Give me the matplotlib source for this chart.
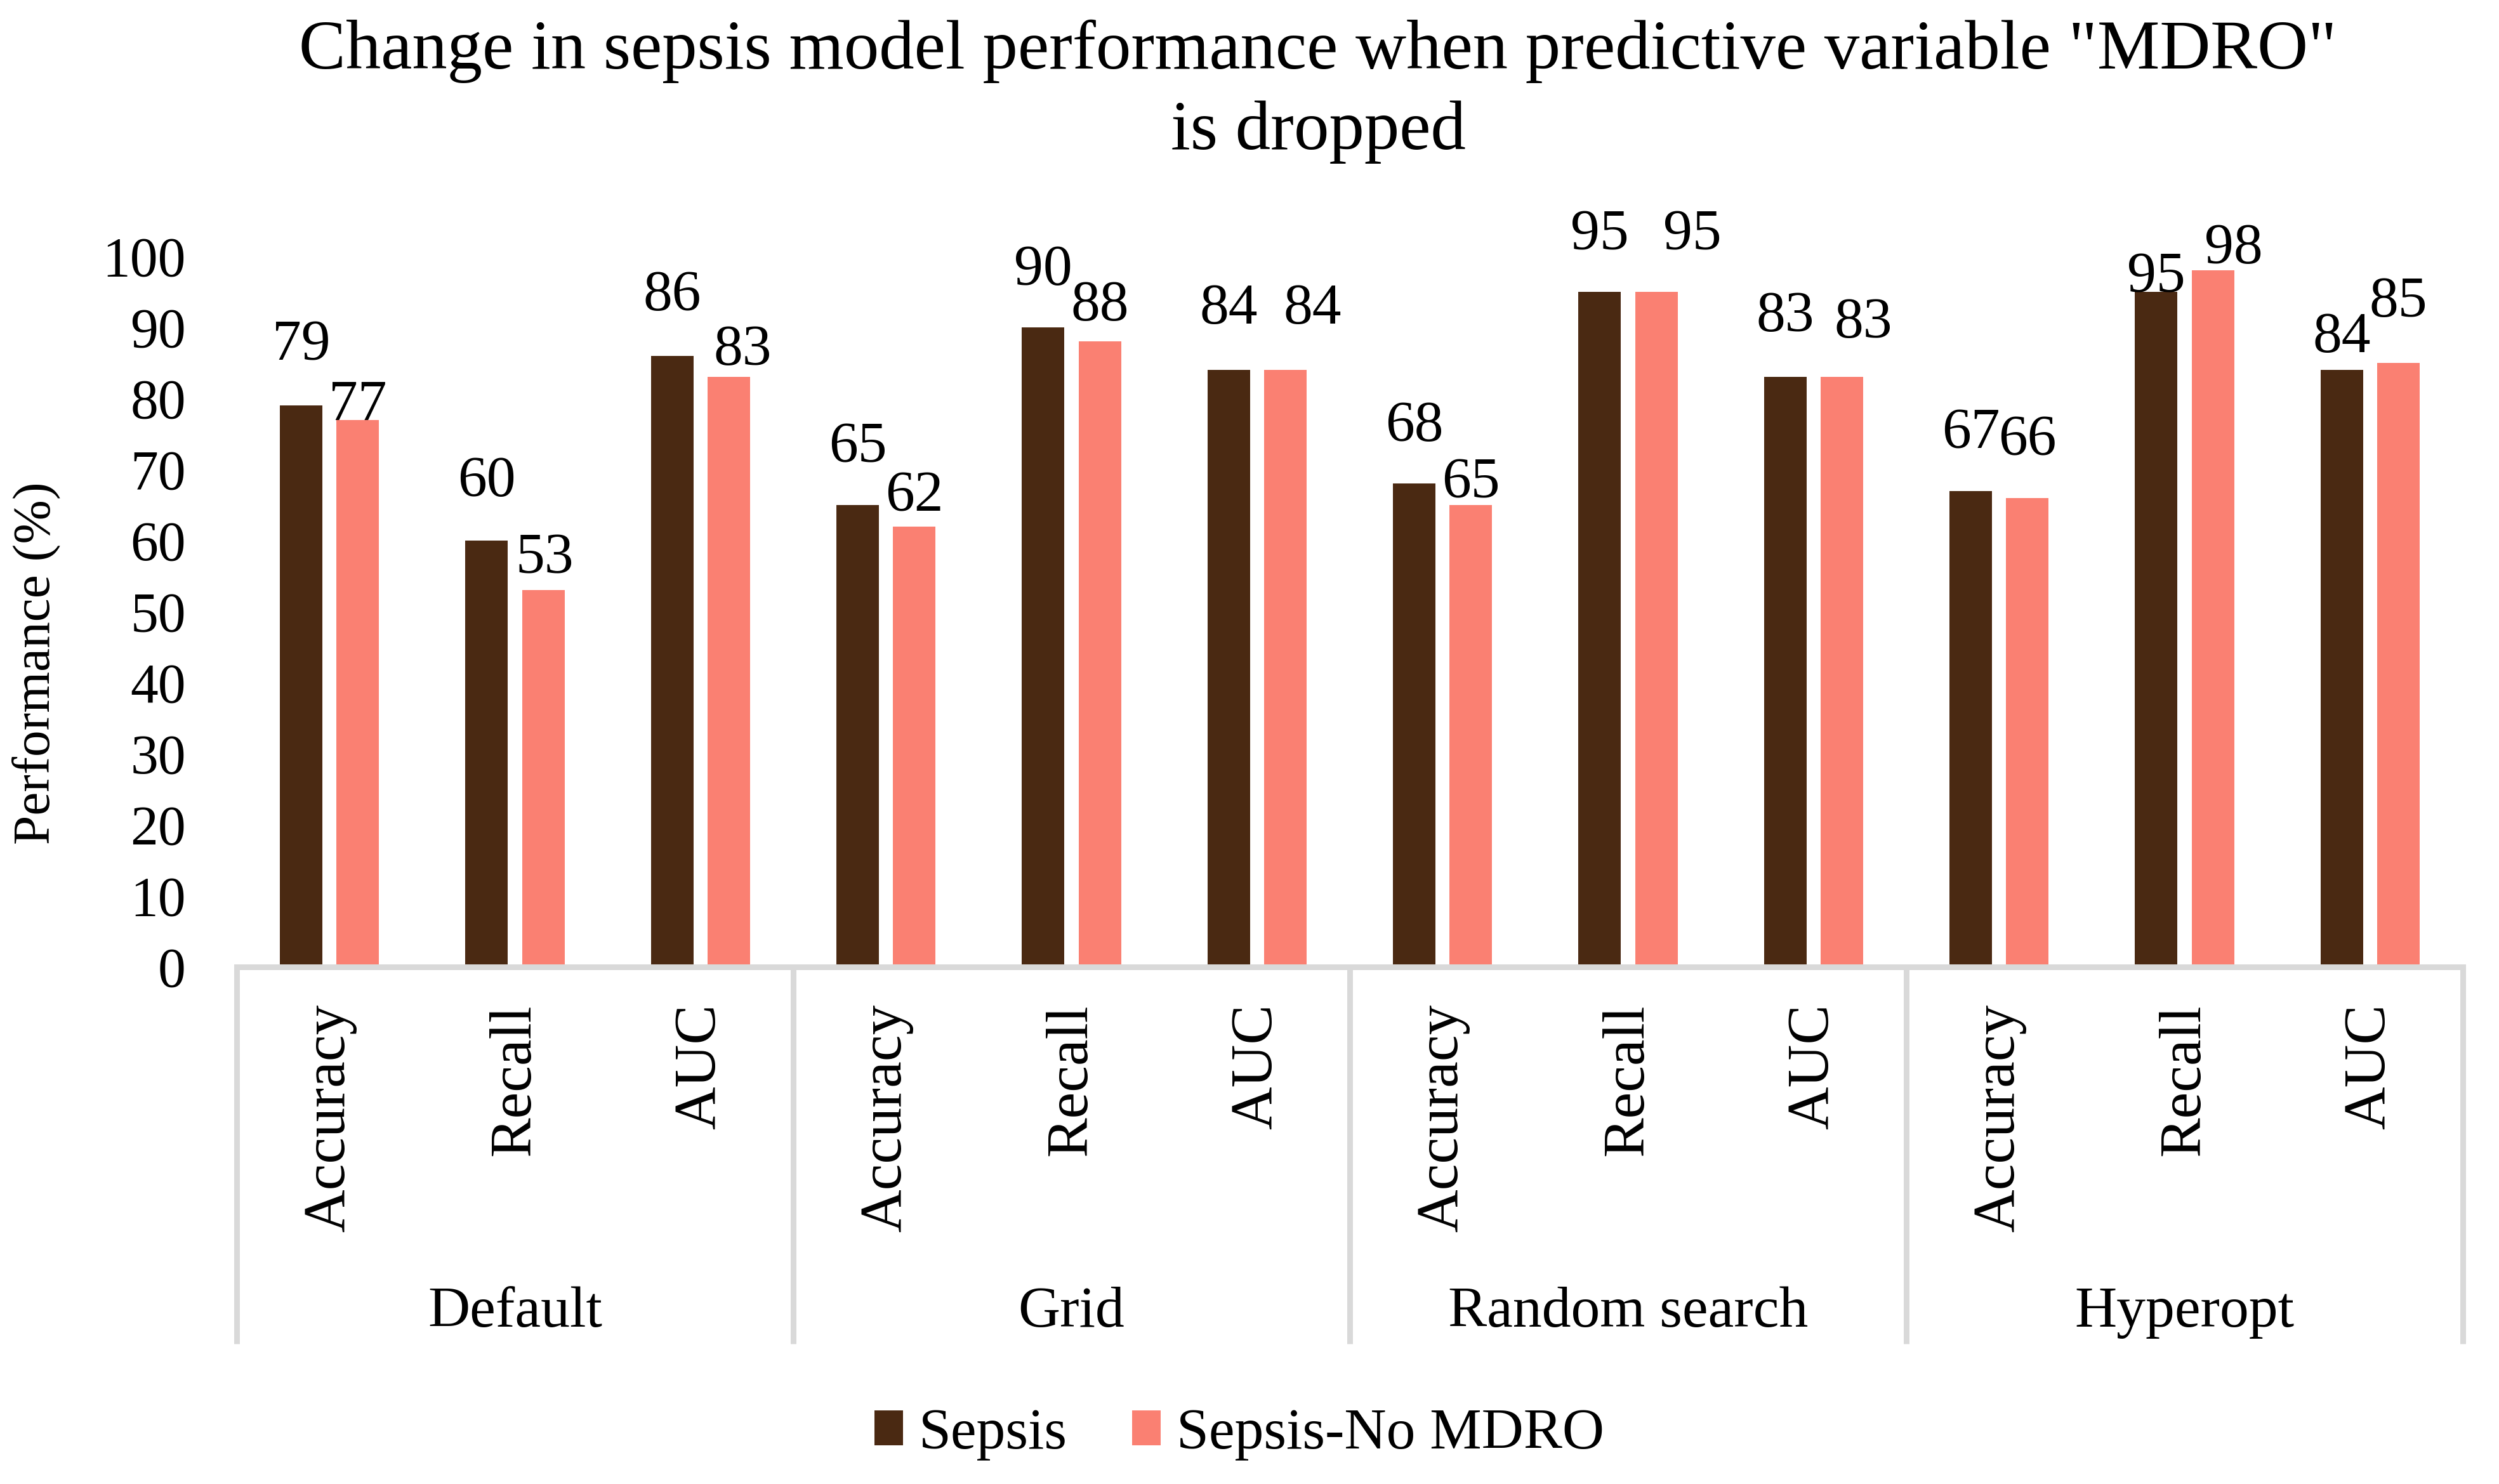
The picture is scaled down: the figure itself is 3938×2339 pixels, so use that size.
import matplotlib
matplotlib.use("Agg")
import matplotlib.pyplot as plt
import matplotlib.transforms as mtransforms
from matplotlib.patches import Patch
import numpy as np

plt.rcParams['font.family'] = ['Liberation Serif', 'DejaVu Serif']

# ---------------- data ----------------
groups = ["Default", "Grid", "Random search", "Hyperopt"]
metrics = ["Accuracy", "Recall", "AUC"]
series_names = ["Sepsis", "Sepsis-No MDRO"]
sepsis = [79, 60, 86, 65, 90, 84, 68, 95, 83, 67, 95, 84]
sepsis_no_mdro = [77, 53, 83, 62, 88, 84, 65, 95, 83, 66, 98, 85]
y_ticks = [0, 10, 20, 30, 40, 50, 60, 70, 80, 90, 100]
title_lines = ['Change in sepsis model performance when predictive variable "MDRO"',
               'is dropped']
y_label = "Performance (%)"

# ---------------- style ----------------
colors = ["#4A2912", "#FA8072"]
W, H, DPI = 3938, 2339, 300
PX = 72.0 / DPI  # points per pixel
# label offsets (pixels) to mimic the hand-placed labels in the original
lab_gap = [
    [72, 70, 72, 68, 67, 73, 67, 67, 72, 67, 0, 28],
    [0, 27, 19, 24, 33, 73, 12, 67, 62, 67, 11, 73],
]
lab_dx = [
    [0, 0, 0, 0, 0, 0, 0, 0, 0, 0, 0, 0],
    [0, 2, 22, 0, 0, 43, 0, 57, 34, 0, 33, 0],
]

fig = plt.figure(figsize=(W / DPI, H / DPI), dpi=DPI)
ax_left, ax_right = 373 / W, 3881 / W
ax_top_px, ax_bot_px = 404, 1524
ax = fig.add_axes([ax_left, 1 - ax_bot_px / H, ax_right - ax_left, (ax_bot_px - ax_top_px) / H])

n = len(sepsis)
x = np.arange(n)
bw = 0.229
off = 0.1525
vals = [sepsis, sepsis_no_mdro]
for s, (v, c, name) in enumerate(zip(vals, colors, series_names)):
    xs = x + (-off if s == 0 else off)
    ax.bar(xs, v, width=bw, color=c, label=name, zorder=2)
    for i, (xi, vi) in enumerate(zip(xs, v)):
        ax.annotate(str(vi), xy=(xi, vi), xytext=(lab_dx[s][i] * PX, lab_gap[s][i] * PX),
                    textcoords="offset points", ha="center", va="baseline",
                    fontsize=22, color="black", annotation_clip=False)

ax.set_xlim(-0.5, n - 0.5)
ax.set_ylim(0, 100)
ax.set_yticks(y_ticks)
ax.tick_params(axis="y", length=0, pad=80 * PX, labelsize=21)
ax.set_xticks([])
for sp in ax.spines.values():
    sp.set_visible(False)

# category axis box
line_c = "#D9D9D9"
lw = 9 * PX
trans = mtransforms.blended_transform_factory(ax.transData, ax.transAxes)
ax_h = ax_bot_px - ax_top_px
ax.plot([-0.5, n - 0.5], [0, 0], color=line_c, lw=lw, transform=trans, clip_on=False,
        solid_capstyle="projecting", zorder=3)
bottom_frac = (ax_bot_px - 2118) / ax_h
ng = len(groups)
nm = len(metrics)
for g in range(ng + 1):
    xb = g * nm - 0.5
    ax.plot([xb, xb], [0, bottom_frac], color=line_c, lw=lw, transform=trans, clip_on=False,
            solid_capstyle="butt", zorder=3)

cat_y = (ax_bot_px - 1582) / ax_h
grp_y = (ax_bot_px - 2091) / ax_h
for g, gname in enumerate(groups):
    for m, mname in enumerate(metrics):
        ax.text(g * nm + m, cat_y, mname, rotation=90, ha="center", va="top",
                fontsize=22.5, transform=trans)
    ax.text(g * nm + (nm - 1) / 2, grp_y, gname, ha="center", va="baseline",
            fontsize=22, transform=trans)

# y label
fig.text(77 / W, 1 - 1045 / H, y_label, rotation=90, rotation_mode="anchor",
         ha="center", va="baseline", fontsize=20)

# title
title_base = [108, 235]
for line, yb in zip(title_lines, title_base):
    fig.text(2077 / W, 1 - yb / H, line, ha="center", va="baseline", fontsize=26.6)

# legend
handles = [Patch(facecolor=c, edgecolor="none") for c in colors]
fig.legend(handles, series_names, loc="center", bbox_to_anchor=(1953 / W, 1 - 2261 / H),
           ncol=2, frameon=False, fontsize=22, handlelength=0.49, handleheight=0.55,
           handletextpad=0.27, columnspacing=1.12, borderpad=0, borderaxespad=0)

fig.savefig("out.png", dpi=DPI, facecolor="white")
